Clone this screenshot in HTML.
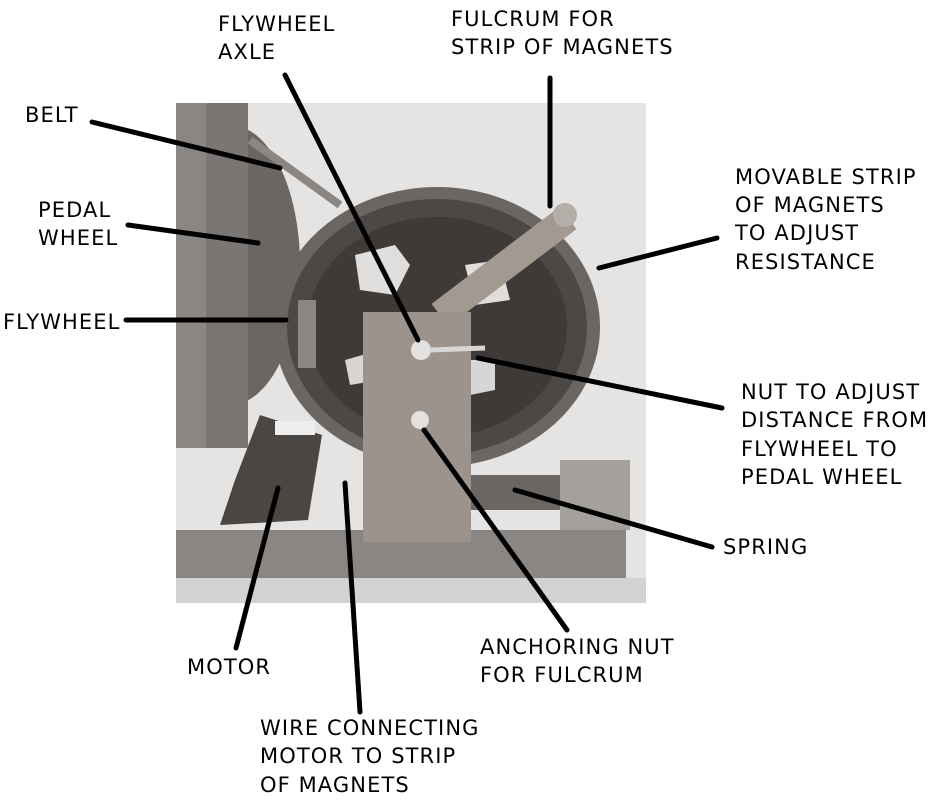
<!DOCTYPE html>
<html><head><style>
body{margin:0;background:#fff;width:951px;height:800px;overflow:hidden}
svg{position:absolute;left:0;top:0}
.t{font-family:"DejaVu Sans","Liberation Sans",sans-serif;font-size:21px;letter-spacing:1.1px;fill:#000}
</style></head><body>
<svg width="951" height="800" viewBox="0 0 951 800">
<defs><clipPath id="c"><rect x="176" y="103" width="470" height="500"/></clipPath></defs>
<g clip-path="url(#c)">
<rect x="176" y="103" width="470" height="500" fill="#e6e4e2"/>
<ellipse cx="230" cy="265" rx="70" ry="140" fill="#6a6664"/>
<rect x="176" y="103" width="72" height="345" fill="#7a7674"/>
<rect x="176" y="103" width="30" height="345" fill="#8a8684"/>
<line x1="250" y1="140" x2="340" y2="205" stroke="#8a8684" stroke-width="8"/>
<ellipse cx="437" cy="327" rx="163" ry="140" fill="#6a6664"/>
<ellipse cx="437" cy="327" rx="150" ry="128" fill="#4c4846"/>
<ellipse cx="437" cy="327" rx="130" ry="110" fill="#3e3a38"/>
<path d="M355 255 L395 245 L410 265 L395 295 L360 290 Z" fill="#e0dedc"/>
<path d="M465 265 L500 260 L510 300 L475 305 Z" fill="#e0dedc"/>
<path d="M345 360 L380 350 L380 380 L350 385 Z" fill="#d8d6d4"/>
<path d="M470 360 L495 360 L495 390 L470 395 Z" fill="#d8d6d4"/>
<rect x="298" y="300" width="18" height="68" fill="#8a8684"/>
<line x1="440" y1="315" x2="568" y2="218" stroke="#a29a90" stroke-width="28"/>
<circle cx="565" cy="215" r="12" fill="#b4aea8"/>
<rect x="176" y="530" width="450" height="48" fill="#8a8684"/>
<rect x="176" y="578" width="470" height="25" fill="#d4d2d0"/>
<rect x="560" y="460" width="70" height="70" fill="#a4a09c"/>
<rect x="470" y="475" width="90" height="35" fill="#6a6664"/>
<path d="M260 415 L322 435 L308 520 L220 525 L235 480 Z" fill="#4a4644"/>
<rect x="275" y="421" width="40" height="14" fill="#eeeeee"/>
<rect x="363" y="312" width="108" height="230" fill="#9c948c"/>
<circle cx="421" cy="350" r="10" fill="#e4e2e0"/>
<line x1="430" y1="350" x2="485" y2="348" stroke="#d8d6d4" stroke-width="5"/>
<circle cx="420" cy="420" r="9" fill="#e4e2e0"/>
</g>
<g stroke="#000" stroke-width="5" stroke-linecap="round">
<line x1="92" y1="122" x2="280" y2="168"/>
<line x1="128" y1="225" x2="258" y2="243"/>
<line x1="126" y1="320" x2="286" y2="320"/>
<line x1="285" y1="75" x2="418" y2="340"/>
<line x1="550" y1="78" x2="550" y2="206"/>
<line x1="717" y1="238" x2="599" y2="268"/>
<line x1="722" y1="408" x2="478" y2="358"/>
<line x1="712" y1="547" x2="515" y2="490"/>
<line x1="567" y1="630" x2="424" y2="430"/>
<line x1="236" y1="648" x2="278" y2="488"/>
<line x1="360" y1="712" x2="345" y2="483"/>
</g>
<text class="t" x="218" y="31">FLYWHEEL</text>
<text class="t" x="218" y="59">AXLE</text>
<text class="t" x="451" y="26">FULCRUM FOR</text>
<text class="t" x="451" y="54">STRIP OF MAGNETS</text>
<text class="t" x="25" y="122">BELT</text>
<text class="t" x="38" y="217">PEDAL</text>
<text class="t" x="38" y="245">WHEEL</text>
<text class="t" x="3" y="329">FLYWHEEL</text>
<text class="t" x="735" y="184">MOVABLE STRIP</text>
<text class="t" x="735" y="212">OF MAGNETS</text>
<text class="t" x="735" y="240">TO ADJUST</text>
<text class="t" x="735" y="269">RESISTANCE</text>
<text class="t" x="741" y="399">NUT TO ADJUST</text>
<text class="t" x="741" y="427">DISTANCE FROM</text>
<text class="t" x="741" y="456">FLYWHEEL TO</text>
<text class="t" x="741" y="484">PEDAL WHEEL</text>
<text class="t" x="723" y="554">SPRING</text>
<text class="t" x="480" y="654">ANCHORING NUT</text>
<text class="t" x="480" y="682">FOR FULCRUM</text>
<text class="t" x="187" y="674">MOTOR</text>
<text class="t" x="260" y="735">WIRE CONNECTING</text>
<text class="t" x="260" y="763">MOTOR TO STRIP</text>
<text class="t" x="260" y="792">OF MAGNETS</text>
</svg>
</body></html>
